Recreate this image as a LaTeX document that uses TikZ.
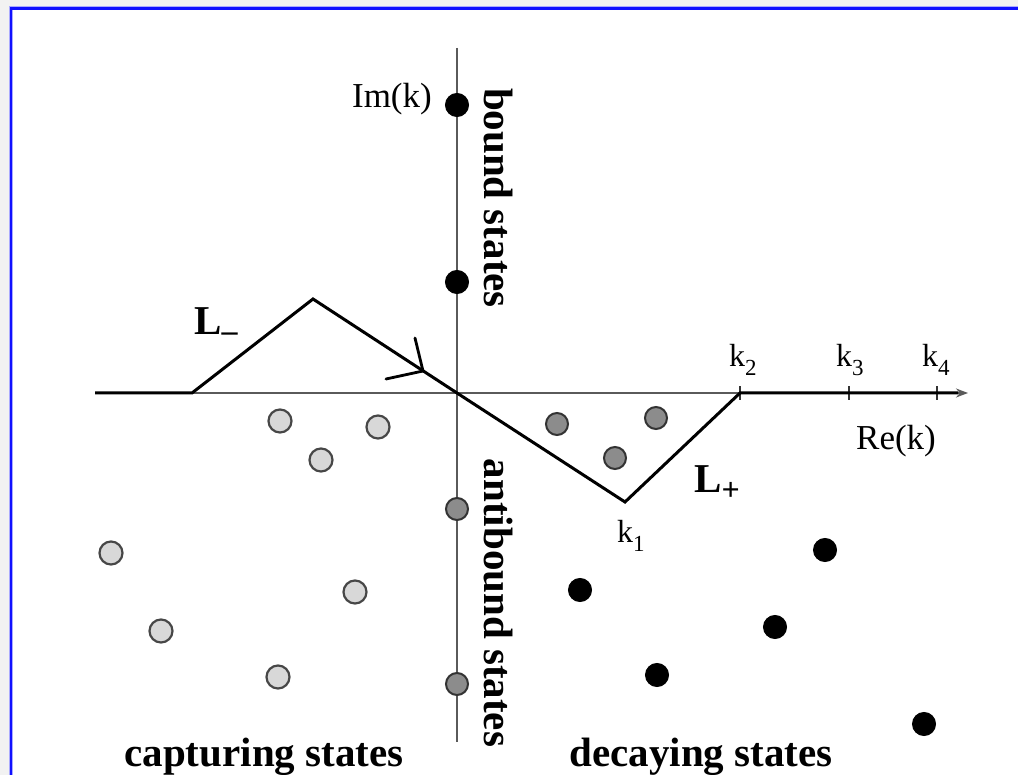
\documentclass[tikz,border=0pt]{standalone}
\usepackage{fontspec}
\setmainfont{Liberation Serif}
\usetikzlibrary{arrows.meta}
\definecolor{framegray}{HTML}{F2F2F2}
\definecolor{frameblue}{HTML}{1010FF}
\definecolor{lightfill}{HTML}{D8D8D8}
\definecolor{midfill}{HTML}{8C8C8C}
\definecolor{axisgray}{HTML}{5A5A5A}
\newcommand{\ksub}[1]{k\raisebox{-9pt}{\fontsize{23}{23}\selectfont #1}}
\begin{document}
\begin{tikzpicture}[x=1pt,y=-1pt,
  dotblack/.style={circle,inner sep=0pt,minimum size=23pt,fill=black,draw=black,line width=1pt},
  dotmid/.style={circle,inner sep=0pt,minimum size=22pt,fill=midfill,draw=black!80,line width=2pt},
  dotlight/.style={circle,inner sep=0pt,minimum size=23pt,fill=lightfill,draw=black!72,line width=2.2pt},
  axisline/.style={draw=axisgray,line width=1.8pt},
  contour/.style={draw=black,line width=3pt,line join=miter},
  barb/.style={draw=black,line width=2.8pt,line cap=round},
  tick/.style={draw=black!80,line width=1.6pt},
  lbl/.style={font=\fontsize{35}{40}\selectfont,inner sep=0pt},
  klbl/.style={font=\fontsize{32}{36}\selectfont,inner sep=0pt,anchor=base west},
  biglbl/.style={font=\fontsize{41}{46}\selectfont\bfseries,inner sep=0pt,anchor=base},
  llbl/.style={font=\fontsize{41}{44}\selectfont\bfseries,inner sep=0pt,anchor=base west}
]
\useasboundingbox (0,0) rectangle (1018,775);
% frame
\fill[framegray] (0,0) rectangle (1018,775);
\fill[white] (11,8.5) rectangle (1018,775);
\draw[frameblue!35,line width=4pt] (11,775) -- (11,8.5) -- (1018,8.5);
\draw[frameblue,line width=2.2pt] (11,775) -- (11,8.5) -- (1018,8.5);

% axes
\coordinate (xl) at (95,393);
\coordinate (xr) at (968,393);
\coordinate (yt) at (457,48);
\coordinate (yb) at (457,742);
\coordinate (O) at (457,393);
\draw[axisline] (yt) -- (yb);
\draw[axisline,-{Stealth[length=12pt,width=9pt]}] (xl) -- (xr);

% ticks
\coordinate (k2) at (740,393);
\coordinate (k3) at (849,393);
\coordinate (k4) at (937,393);
\draw[tick] ([yshift=-7pt]k2) -- ([yshift=7pt]k2);
\draw[tick] ([yshift=-7pt]k3) -- ([yshift=7pt]k3);
\draw[tick] ([yshift=-7pt]k4) -- ([yshift=7pt]k4);

% contour
\coordinate (cl) at (95,393);
\coordinate (a) at (192,393);
\coordinate (peak) at (313,299);
\coordinate (k1) at (625,502);
\coordinate (cr) at (958,393);
\draw[contour] (cl) -- (a) -- (peak) -- (O) -- (k1) -- (k2) -- (cr);
% arrow on contour
\coordinate (tip) at (423,371);
\coordinate (b1) at (415,338);
\coordinate (b2) at (386,379);
\draw[barb] (b1) -- (tip) -- (b2);

% bound states
\node[dotblack] (bs1) at (457,105) {};
\node[dotblack] (bs2) at (457,282) {};
% antibound states
\node[dotmid] (ab1) at (457,509) {};
\node[dotmid] (ab2) at (457,684) {};
% resonances near axis
\node[dotmid] (r1) at (557,424) {};
\node[dotmid] (r2) at (656,418) {};
\node[dotmid] (r3) at (615,458) {};
% capturing states
\node[dotlight] (c1) at (280,421) {};
\node[dotlight] (c2) at (378,427) {};
\node[dotlight] (c3) at (321,460) {};
\node[dotlight] (c4) at (111,553) {};
\node[dotlight] (c5) at (355,592) {};
\node[dotlight] (c6) at (161,631) {};
\node[dotlight] (c7) at (278,677) {};
% decaying states
\node[dotblack] (d1) at (580,590) {};
\node[dotblack] (d2) at (825,550) {};
\node[dotblack] (d3) at (775,627) {};
\node[dotblack] (d4) at (657,675) {};
\node[dotblack] (d5) at (924,724) {};

% labels
\node[lbl,anchor=base east] (im) at (432,108) {Im(k)};
\node[lbl,anchor=base] (re) at (896,450) {Re(k)};
\node[klbl] (lk2) at (729,367) {\ksub{2}};
\node[klbl] (lk3) at (836,367) {\ksub{3}};
\node[klbl] (lk4) at (922,367) {\ksub{4}};
\node[klbl] (lk1) at (617,543) {\ksub{1}};
\node[llbl] (lm) at (194,335) {L\raisebox{-7pt}{\fontsize{32}{32}\selectfont –}};
\node[llbl] (lp) at (694,493) {L\raisebox{-8pt}{\fontsize{32}{32}\selectfont +}};
\node[biglbl,rotate=-90] (bound) at (484,198) {bound states};
\node[biglbl,rotate=-90] (anti) at (484,603) {antibound states};
\node[biglbl] (capt) at (264,766) {capturing states};
\node[biglbl] (dec) at (701,766) {decaying states};
\end{tikzpicture}
\end{document}
